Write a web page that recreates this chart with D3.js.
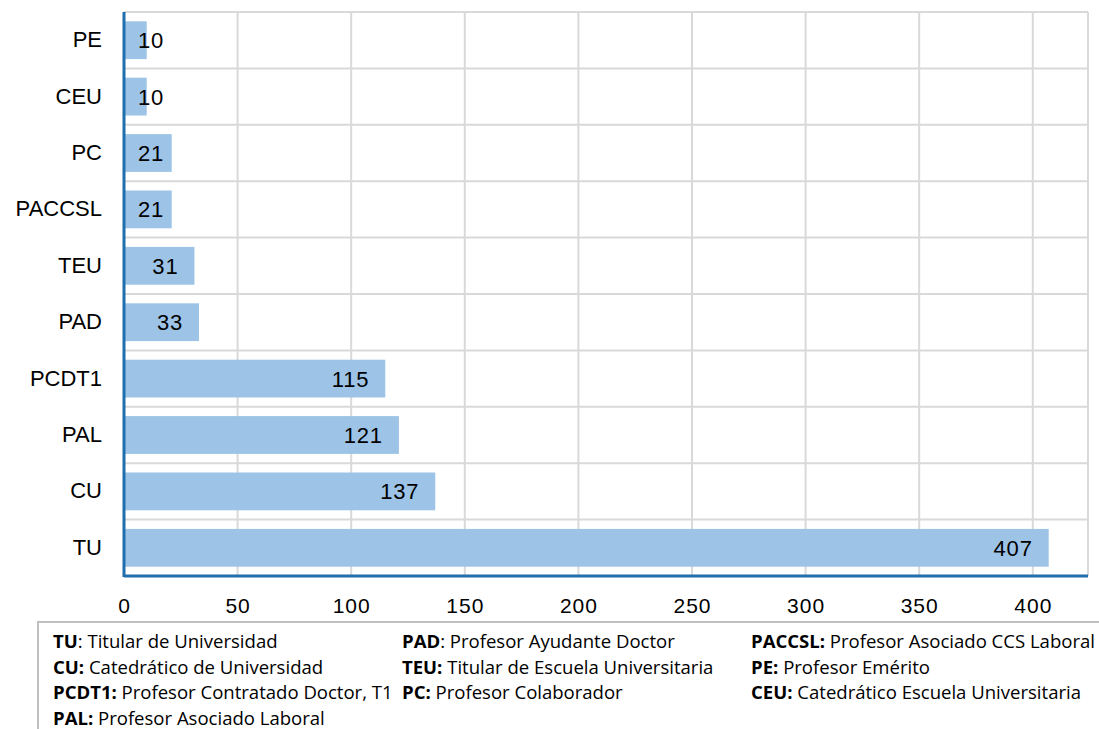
<!DOCTYPE html>
<html><head><meta charset="utf-8">
<script src="https://cdn.jsdelivr.net/npm/d3@7"></script>
<style>body{margin:0;background:#fff}svg{display:block}</style>
</head><body>
<svg id="c" width="1099" height="729"></svg>
<script>
const categories = ["PE","CEU","PC","PACCSL","TEU","PAD","PCDT1","PAL","CU","TU"];
const values = [10,10,21,21,31,33,115,121,137,407];
const xTicks = [0,50,100,150,200,250,300,350,400];
const legendCol1 = [["TU",": Titular de Universidad"],["CU:"," Catedrático de Universidad"],["PCDT1:"," Profesor Contratado Doctor, T1"],["PAL:"," Profesor Asociado Laboral"]];
const legendCol2 = [["PAD",": Profesor Ayudante Doctor"],["TEU:"," Titular de Escuela Universitaria"],["PC:"," Profesor Colaborador"]];
const legendCol3 = [["PACCSL:"," Profesor Asociado CCS Laboral"],["PE:"," Profesor Emérito"],["CEU:"," Catedrático Escuela Universitaria"]];

const FONT = "'Liberation Sans', Arial, sans-serif";
const svg = d3.select("#c");
const L = 124, R = 1088, T = 12, B = 576;
const x = d3.scaleLinear().domain([0, 424.3]).range([L, R]);
const y = d3.scaleBand().domain(categories).range([T, B]).paddingInner(0.33).paddingOuter(0.165);
const yb = d3.scaleBand().domain(categories).range([T, B]);

// vertical grid
svg.append("g").selectAll("line").data(xTicks.slice(1)).join("line")
  .attr("x1", d => x(d)).attr("x2", d => x(d)).attr("y1", T).attr("y2", B)
  .attr("stroke", "#d9d9d9").attr("stroke-width", 2);
// horizontal grid at band boundaries
svg.append("g").selectAll("line").data(categories.slice(1)).join("line")
  .attr("x1", L).attr("x2", R).attr("y1", d => yb(d)).attr("y2", d => yb(d))
  .attr("stroke", "#d9d9d9").attr("stroke-width", 2);
// top & right border
svg.append("line").attr("x1", L).attr("x2", R).attr("y1", T).attr("y2", T).attr("stroke", "#d9d9d9").attr("stroke-width", 2);
svg.append("line").attr("x1", R).attr("x2", R).attr("y1", T).attr("y2", B).attr("stroke", "#d9d9d9").attr("stroke-width", 2);

// bars
svg.append("g").selectAll("rect").data(categories).join("rect")
  .attr("x", x(0)).attr("y", d => y(d))
  .attr("width", (d, i) => x(values[i]) - x(0)).attr("height", y.bandwidth())
  .attr("fill", "#9dc3e6");

// bar labels
svg.append("g").selectAll("text").data(categories).join("text")
  .attr("x", (d, i) => Math.max(x(values[i]) - 16, x(0) + 40))
  .attr("y", d => y(d) + y.bandwidth() / 2)
  .attr("dy", "0.36em").attr("text-anchor", "end")
  .attr("font-family", FONT).attr("font-size", 22).attr("letter-spacing", 0.8).attr("fill", "#000")
  .text((d, i) => values[i]);

// axes lines
svg.append("line").attr("x1", L).attr("x2", L).attr("y1", T).attr("y2", B + 1).attr("stroke", "#1f6fae").attr("stroke-width", 3);
svg.append("line").attr("x1", L).attr("x2", R).attr("y1", B).attr("y2", B).attr("stroke", "#1f6fae").attr("stroke-width", 3);

// y labels
const yAxis = d3.axisLeft(yb).tickSize(0).tickPadding(22);
const yg = svg.append("g").attr("transform", `translate(${L},0)`).call(yAxis);
yg.select(".domain").remove();
yg.selectAll("text").attr("font-family", FONT).attr("font-size", 22).attr("fill", "#000");

// x labels
const xAxis = d3.axisBottom(x).tickValues(xTicks).tickSize(0).tickPadding(22);
const xg = svg.append("g").attr("transform", `translate(0,${B})`).call(xAxis);
xg.select(".domain").remove();
xg.selectAll("text").attr("font-family", FONT).attr("font-size", 21).attr("letter-spacing", 1).attr("fill", "#000");

// legend box
svg.append("rect").attr("x", 38).attr("y", 622).attr("width", 1080).attr("height", 120)
  .attr("fill", "#fff").attr("stroke", "#bfbfbf").attr("stroke-width", 2);
const texts = [];
function col(data, x0) {
  const g = svg.append("g");
  data.forEach((d, i) => {
    const t = g.append("text").attr("data-x", x0).attr("data-y", 648 + i * 25.5)
      .attr("font-family", "'Open Sans', sans-serif").attr("font-size", 17.5).attr("fill", "#000");
    t.append("tspan").attr("font-weight", "bold").text(d[0]);
    t.append("tspan").text(d[1]);
    texts.push(t);
  });
}
col(legendCol1, 53);
col(legendCol2, 402);
col(legendCol3, 751);
// horizontal condensing to mimic narrow legend font, calibrated on the PCDT1 line (≈340px wide)
const ref = texts[2].node().getComputedTextLength();
const sx = 340 / ref;
texts.forEach(t => t.attr("transform", `translate(${t.attr("data-x")},${t.attr("data-y")}) scale(${sx},1)`));
</script>
</body></html>
